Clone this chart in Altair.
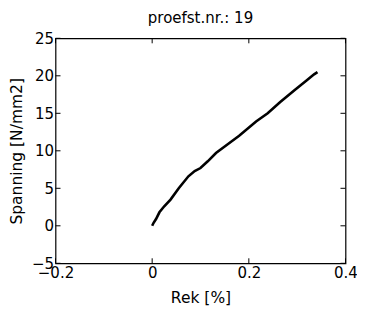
import altair as alt
import pandas as pd

rek = [0.0, 0.003, 0.008, 0.015, 0.025, 0.038, 0.055, 0.075, 0.088, 0.100, 0.115, 0.132,
       0.157, 0.180, 0.215, 0.239, 0.265, 0.295, 0.320, 0.335, 0.342]
spanning = [0.0, 0.4, 0.9, 1.8, 2.6, 3.5, 5.0, 6.6, 7.3, 7.7, 8.6, 9.7,
            10.9, 12.0, 13.9, 15.0, 16.5, 18.1, 19.4, 20.2, 20.5]

x_ticks = [-0.2, 0.0, 0.2, 0.4]
y_ticks = [-5, 0, 5, 10, 15, 20, 25]

W, H = 290, 225
TL = 5
FONT = "DejaVu Sans"

df = pd.DataFrame({"rek": rek, "spanning": spanning, "order": list(range(len(rek)))})
xt = pd.DataFrame({"v": x_ticks})
yt = pd.DataFrame({"v": y_ticks})

xs = alt.Scale(domain=[-0.2, 0.4], nice=False, zero=False)
ys = alt.Scale(domain=[-5, 25], nice=False, zero=False)

x_axis = alt.Axis(values=x_ticks, format=".1~f", ticks=False, domain=False, grid=False,
                  labelPadding=2, titlePadding=10, labelOverlap=False, labelFlush=False)
y_axis = alt.Axis(values=y_ticks, ticks=False, domain=False, grid=False,
                  labelPadding=2, titlePadding=7, labelOverlap=False, labelFlush=False)
XT = "Rek [%]"
YT = "Spanning [N/mm2]"

line = alt.Chart(df).mark_line(color="black", strokeWidth=2.6).encode(
    x=alt.X("rek:Q", scale=xs, title=XT, axis=x_axis),
    y=alt.Y("spanning:Q", scale=ys, title=YT, axis=y_axis),
    order="order:Q",
)

bt = alt.Chart(xt).mark_rule(color="black", strokeWidth=1).encode(
    x=alt.X("v:Q", scale=xs, title=XT, axis=x_axis), y=alt.value(H), y2=alt.value(H - TL))
tt = alt.Chart(xt).mark_rule(color="black", strokeWidth=1).encode(
    x=alt.X("v:Q", scale=xs, title=XT, axis=x_axis), y=alt.value(0), y2=alt.value(TL))
lt = alt.Chart(yt).mark_rule(color="black", strokeWidth=1).encode(
    y=alt.Y("v:Q", scale=ys, title=YT, axis=y_axis), x=alt.value(0), x2=alt.value(TL))
rt = alt.Chart(yt).mark_rule(color="black", strokeWidth=1).encode(
    y=alt.Y("v:Q", scale=ys, title=YT, axis=y_axis), x=alt.value(W), x2=alt.value(W - TL))

chart = alt.layer(line, bt, tt, lt, rt).properties(
    width=W, height=H,
    autosize=alt.AutoSizeParams(type="none"),
    padding={"left": 47.5, "top": 30.3, "right": 11.5, "bottom": 47},
    title=alt.TitleParams("proefst.nr.: 19", font=FONT, fontSize=15, fontWeight="normal",
                          color="black", offset=5),
).configure(
    background="white",
).configure_view(
    stroke="black", strokeWidth=1.2,
).configure_axis(
    labelFont=FONT, labelFontSize=15, labelColor="black",
    titleFont=FONT, titleFontSize=15.5, titleColor="black", titleFontWeight="normal",
)

chart.save("out.html", embed_options={"renderer": "svg", "actions": False})
